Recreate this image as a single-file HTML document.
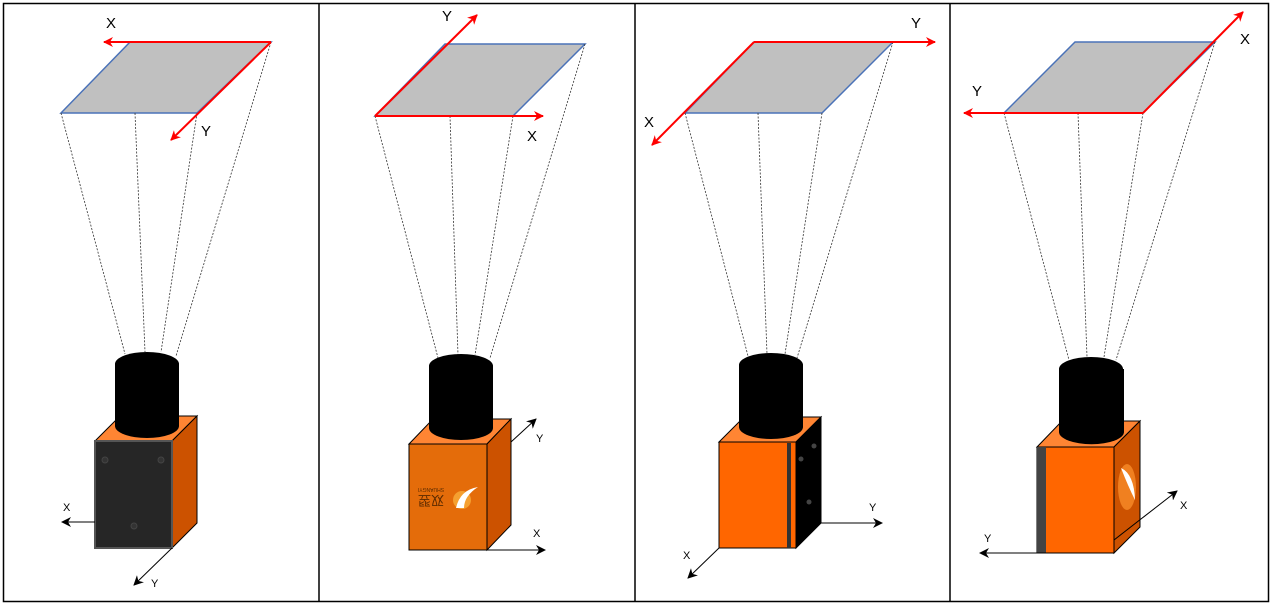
<!DOCTYPE html>
<html><head><meta charset="utf-8"><style>
html,body{margin:0;padding:0;background:#fff;}
svg{display:block;font-family:"Liberation Sans",sans-serif;}
</style></head><body>
<svg width="1273" height="606" viewBox="0 0 1273 606" xmlns="http://www.w3.org/2000/svg">
<defs>
<marker id="ar" viewBox="0 0 10 10" refX="9" refY="5" markerWidth="10" markerHeight="10" markerUnits="userSpaceOnUse" orient="auto"><path d="M0,0 L10,5 L0,10 L3,5 Z" fill="#f00"/></marker>
<marker id="ab" viewBox="0 0 10 10" refX="9" refY="5" markerWidth="10" markerHeight="10" markerUnits="userSpaceOnUse" orient="auto"><path d="M0,0 L10,5 L0,10 L3,5 Z" fill="#000"/></marker>
</defs>
<rect x="3.5" y="3.5" width="1265" height="598" fill="#fff" stroke="#000" stroke-width="1.5"/>
<line x1="319" y1="3" x2="319" y2="602" stroke="#000" stroke-width="1.5"/>
<line x1="635" y1="3" x2="635" y2="602" stroke="#000" stroke-width="1.5"/>
<line x1="950" y1="3" x2="950" y2="602" stroke="#000" stroke-width="1.5"/>

<g font-size="15" fill="#000">
<!-- Panel 1 -->
<polygon points="61,113 130,42 271,42 197,113" fill="#c0c0c0" stroke="#4a72b8" stroke-width="1.5"/>
<g stroke="#333" stroke-width="0.8" stroke-dasharray="2,1.5" fill="none">
<line x1="61" y1="113" x2="125" y2="354"/><line x1="135" y1="113" x2="145" y2="352"/><line x1="197" y1="113" x2="161" y2="352"/><line x1="271" y1="42" x2="176" y2="356"/>
</g>
<line x1="271" y1="42" x2="104" y2="42" stroke="#f00" stroke-width="2" marker-end="url(#ar)"/>
<line x1="271" y1="42" x2="171" y2="140" stroke="#f00" stroke-width="2" marker-end="url(#ar)"/>
<text x="106" y="28">X</text><text x="201" y="136">Y</text>
<polygon points="95,441 120,416 197,416 172,441" fill="#ff8533" stroke="#000"/>
<polygon points="172,441 197,416 197,523 172,548" fill="#cc5200" stroke="#000"/>
<path d="M115,364 L115,426 A32,12 0 0 0 179,426 L179,364 Z" fill="#000"/><ellipse cx="147" cy="364" rx="32" ry="12" fill="#000"/>
<rect x="95" y="441" width="77" height="107" fill="#262626" stroke="#555" stroke-width="2"/>
<g fill="#333" stroke="#444"><circle cx="105" cy="460" r="3"/><circle cx="161" cy="460" r="3"/><circle cx="134" cy="526" r="3"/></g>
<line x1="95" y1="522" x2="62" y2="522" stroke="#000" marker-end="url(#ab)"/>
<line x1="172" y1="548" x2="134" y2="585" stroke="#000" marker-end="url(#ab)"/>
<text x="63" y="511" font-size="11">X</text><text x="151" y="587" font-size="11">Y</text>

<!-- Panel 2 -->
<polygon points="375,116 445,44 585,44 513,116" fill="#c0c0c0" stroke="#4a72b8" stroke-width="1.5"/>
<g stroke="#333" stroke-width="0.8" stroke-dasharray="2,1.5" fill="none">
<line x1="375" y1="116" x2="438" y2="358"/><line x1="450" y1="116" x2="458" y2="355"/><line x1="513" y1="116" x2="475" y2="355"/><line x1="585" y1="44" x2="490" y2="358"/>
</g>
<line x1="375" y1="116" x2="543" y2="116" stroke="#f00" stroke-width="2" marker-end="url(#ar)"/>
<line x1="375" y1="116" x2="477" y2="15" stroke="#f00" stroke-width="2" marker-end="url(#ar)"/>
<text x="527" y="141">X</text><text x="442" y="21">Y</text>
<polygon points="409,444 433,419 511,419 487,444" fill="#ff8533" stroke="#000"/>
<polygon points="487,444 511,419 511,525 487,550" fill="#cc5200" stroke="#000"/>
<path d="M429,366 L429,428 A32,12 0 0 0 493,428 L493,366 Z" fill="#000"/><ellipse cx="461" cy="366" rx="32" ry="12" fill="#000"/>
<rect x="409" y="444" width="78" height="106" fill="#e46c0a" stroke="#000"/>
<g transform="rotate(180 431 494)">
<text x="431" y="492" font-size="13" text-anchor="middle" fill="#5a2a00">双翌</text>
<text x="431" y="500" font-size="5" text-anchor="middle" fill="#5a2a00">SHUANGYI</text>
</g>
<circle cx="462" cy="500" r="9" fill="#f5a030"/><path d="M456,508 Q460,490 478,487 Q464,496 464,508 Z" fill="#fff"/>
<line x1="409" y1="550" x2="545" y2="550" stroke="#000" marker-end="url(#ab)"/>
<line x1="511" y1="442" x2="536" y2="419" stroke="#000" marker-end="url(#ab)"/>
<text x="533" y="537" font-size="11">X</text><text x="536" y="442" font-size="11">Y</text>

<!-- Panel 3 -->
<polygon points="685,113 754,42 893,42 822,113" fill="#c0c0c0" stroke="#4a72b8" stroke-width="1.5"/>
<g stroke="#333" stroke-width="0.8" stroke-dasharray="2,1.5" fill="none">
<line x1="685" y1="113" x2="748" y2="356"/><line x1="758" y1="113" x2="767" y2="354"/><line x1="822" y1="113" x2="785" y2="354"/><line x1="893" y1="42" x2="797" y2="358"/>
</g>
<line x1="754" y1="42" x2="935" y2="42" stroke="#f00" stroke-width="2" marker-end="url(#ar)"/>
<line x1="754" y1="42" x2="652" y2="145" stroke="#f00" stroke-width="2" marker-end="url(#ar)"/>
<text x="911" y="28">Y</text><text x="644" y="127">X</text>
<polygon points="719,442 744,417 821,417 796,442" fill="#ff8533" stroke="#000"/>
<polygon points="796,442 821,417 821,523 796,548" fill="#000" stroke="#000"/>
<g fill="#444"><circle cx="814" cy="446" r="2.5"/><circle cx="801" cy="459" r="2.5"/><circle cx="809" cy="502" r="2.5"/></g>
<path d="M739,365 L739,427 A32,12 0 0 0 803,427 L803,365 Z" fill="#000"/><ellipse cx="771" cy="365" rx="32" ry="12" fill="#000"/>
<rect x="719" y="442" width="77" height="106" fill="#ff6600" stroke="#000"/>
<rect x="787" y="443" width="4" height="105" fill="#333"/>
<line x1="821" y1="523" x2="882" y2="523" stroke="#000" marker-end="url(#ab)"/>
<line x1="719" y1="548" x2="688" y2="578" stroke="#000" marker-end="url(#ab)"/>
<text x="869" y="511" font-size="11">Y</text><text x="683" y="559" font-size="11">X</text>

<!-- Panel 4 -->
<polygon points="1004,113 1075,42 1215,42 1143,113" fill="#c0c0c0" stroke="#4a72b8" stroke-width="1.5"/>
<g stroke="#333" stroke-width="0.8" stroke-dasharray="2,1.5" fill="none">
<line x1="1004" y1="113" x2="1069" y2="360"/><line x1="1078" y1="113" x2="1087" y2="357"/><line x1="1143" y1="113" x2="1104" y2="357"/><line x1="1215" y1="42" x2="1116" y2="360"/>
</g>
<line x1="1143" y1="113" x2="964" y2="113" stroke="#f00" stroke-width="2" marker-end="url(#ar)"/>
<line x1="1143" y1="113" x2="1243" y2="12" stroke="#f00" stroke-width="2" marker-end="url(#ar)"/>
<text x="972" y="96">Y</text><text x="1240" y="44">X</text>
<polygon points="1037,447 1062,421 1140,421 1114,447" fill="#ff8533" stroke="#000"/>
<polygon points="1114,447 1140,421 1140,527 1114,553" fill="#cc5200" stroke="#000"/>
<ellipse cx="1127" cy="487" rx="9" ry="23" fill="#f08020"/><path d="M1121,468 Q1134,474 1135,500 Q1128,486 1121,468 Z" fill="#fff"/>
<path d="M1059,369 L1059,432 A32,12 0 0 0 1124,432 L1124,369 Z" fill="#000"/><ellipse cx="1091" cy="369" rx="32" ry="12" fill="#000"/>
<rect x="1037" y="447" width="77" height="106" fill="#ff6600" stroke="#000"/>
<rect x="1037" y="447" width="9" height="106" fill="#444"/>
<line x1="1047" y1="553" x2="980" y2="553" stroke="#000" marker-end="url(#ab)"/>
<line x1="1114" y1="540" x2="1177" y2="491" stroke="#000" marker-end="url(#ab)"/>
<text x="984" y="542" font-size="11">Y</text><text x="1180" y="509" font-size="11">X</text>
</g>
</svg>
</body></html>
